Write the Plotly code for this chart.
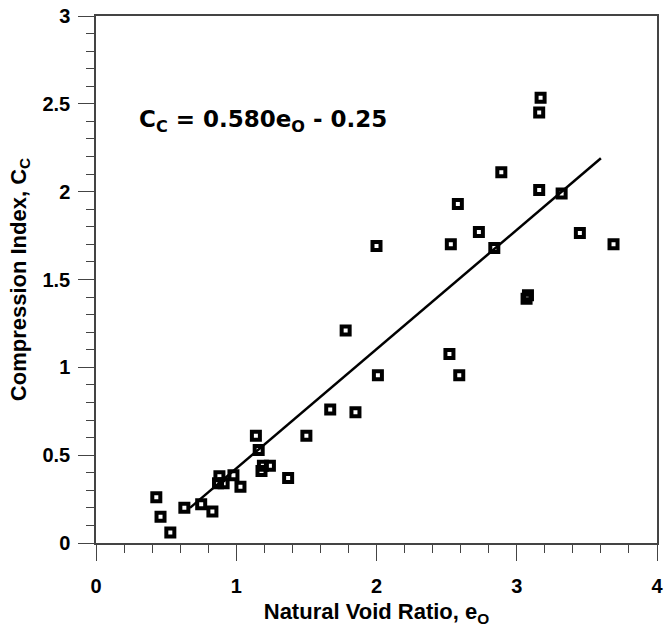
import plotly.graph_objects as go

# Data
void_ratio = [0.43, 0.46, 0.53, 0.63, 0.75, 0.83, 0.88, 0.87, 0.91, 0.98, 1.03,
              1.14, 1.16, 1.18, 1.19, 1.24, 1.37, 1.50, 1.67, 1.78, 1.85, 2.00,
              2.01, 2.52, 2.53, 2.58, 2.59, 2.73, 2.84, 2.89, 3.07, 3.08, 3.16,
              3.16, 3.17, 3.32, 3.45, 3.69]
comp_index = [0.26, 0.15, 0.06, 0.20, 0.22, 0.18, 0.38, 0.34, 0.34, 0.385, 0.32,
              0.61, 0.53, 0.41, 0.44, 0.44, 0.37, 0.61, 0.76, 1.21, 0.745, 1.69,
              0.955, 1.076, 1.70, 1.93, 0.955, 1.77, 1.68, 2.11, 1.39, 1.41, 2.45,
              2.01, 2.535, 1.99, 1.765, 1.70]

fit_x = [0.67, 3.60]
fit_y = [0.20, 2.19]

x_ticks = [0, 1, 2, 3, 4]
x_ticklabels = ["0", "1", "2", "3", "4"]
y_ticks = [0, 0.5, 1, 1.5, 2, 2.5, 3]
y_ticklabels = ["0", "0.5", "1", "1.5", "2", "2.5", "3"]

equation = "C<sub>C</sub> = 0.580e<sub>O</sub> - 0.25"
x_title = "Natural Void Ratio, e<sub>O</sub>"
y_title = "Compression Index, C<sub>C</sub>"

FONT = "Liberation Sans, Arial, sans-serif"
EQ_FONT = "DejaVu Sans, Liberation Sans, sans-serif"

fig = go.Figure()
fig.add_trace(go.Scatter(x=fit_x, y=fit_y, mode="lines",
                         line=dict(color="black", width=2.5), showlegend=False))
fig.add_trace(go.Scatter(x=void_ratio, y=comp_index, mode="markers",
                         marker=dict(symbol="square-open", size=8, color="black",
                                     line=dict(width=4, color="black")),
                         showlegend=False))

fig.add_annotation(x=0.29, y=2.40, xref="x", yref="y", text="<b>" + equation + "</b>",
                   showarrow=False, xanchor="left", yanchor="middle",
                   font=dict(family=EQ_FONT, size=23, color="black"))

axis_common = dict(showgrid=False, zeroline=False, showline=True, mirror=True,
                   linecolor="#444", linewidth=1.5, ticks="outside", ticklen=16,
                   tickwidth=1.2, tickcolor="#444", ticklabeloverflow="allow",
                   tickfont=dict(family=FONT, size=20, color="black", weight="bold"))

fig.update_xaxes(range=[0, 4], tickmode="array", tickvals=x_ticks,
                 ticktext=["<b>" + t + "</b>" for t in x_ticklabels],
                 minor=dict(dtick=0.2, tick0=0, ticks="outside", ticklen=8, tickcolor="#444", tickwidth=1),
                 ticklabelstandoff=8,
                 title=dict(text="<b>" + x_title + "</b>", font=dict(family=FONT, size=22, color="black"),
                            standoff=8),
                 **axis_common)
fig.update_yaxes(range=[0, 3], tickmode="array", tickvals=y_ticks,
                 ticktext=["<b>" + t + "</b>" for t in y_ticklabels],
                 minor=dict(dtick=0.1, tick0=0, ticks="outside", ticklen=8, tickcolor="#444", tickwidth=1),
                 ticklabelstandoff=4,
                 title=dict(text="<b>" + y_title + "</b>", font=dict(family=FONT, size=22, color="black"),
                            standoff=10),
                 **axis_common)

fig.update_layout(width=665, height=632, paper_bgcolor="white", plot_bgcolor="white",
                  margin=dict(l=96, r=8, t=16, b=89, autoexpand=False), showlegend=False)

fig.write_html("out.html")
